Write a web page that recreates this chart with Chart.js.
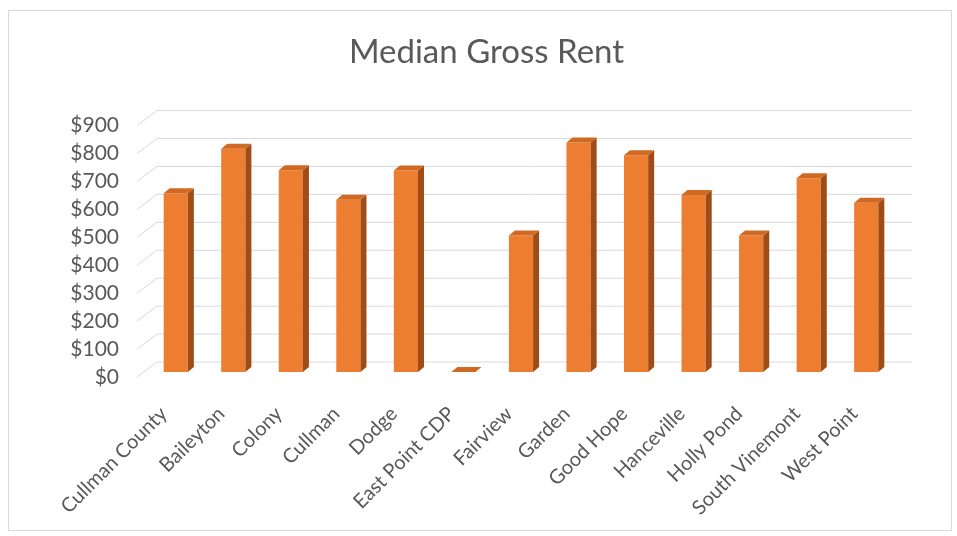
<!DOCTYPE html>
<html>
<head>
<meta charset="utf-8">
<title>Median Gross Rent</title>
<script src="https://cdn.jsdelivr.net/npm/chart.js@4.4.1/dist/chart.umd.min.js"></script>
<style>
  html, body { margin: 0; padding: 0; background: #fff; }
  #wrap { position: relative; width: 957px; height: 536px; }
</style>
</head>
<body>
<div id="wrap"><canvas id="rentChart" width="957" height="536"></canvas></div>
<script>
const places = ['Cullman County', 'Baileyton', 'Colony', 'Cullman', 'Dodge', 'East Point CDP',
  'Fairview', 'Garden', 'Good Hope', 'Hanceville', 'Holly Pond', 'South Vinemont', 'West Point'];
const medianRent = [640, 799, 722, 617, 721, 0, 489, 822, 776, 634, 489, 694, 606];
const rentTicks = [0, 100, 200, 300, 400, 500, 600, 700, 800, 900];

const orange = '#ed7d31';
const orangeSide = '#9f4c17';
const orangeTop = '#d06a22';
const gridColor = '#d9d9d9';
const textColor = '#595959';

// depth of the floor / back wall, and of each bar
const wall = { dx: 20, front: 5, back: -10 };
const barDepth = { dx: 6, dy: -5 };

// outer frame
const framePlugin = {
  id: 'frame',
  beforeDraw(chart) {
    const c = chart.ctx;
    c.save();
    c.fillStyle = '#fff';
    c.fillRect(0, 0, chart.width, chart.height);
    c.strokeStyle = '#d9d9d9';
    c.lineWidth = 1;
    c.strokeRect(8.5, 10.5, 943, 520);
    c.restore();
  }
};

// back wall grid lines with the slanted floor edge at the left
const wallGridPlugin = {
  id: 'wallGrid',
  beforeDatasetsDraw(chart) {
    const c = chart.ctx;
    const y = chart.scales.y;
    const left = chart.chartArea.left - 8;
    const right = 912;
    c.save();
    c.strokeStyle = gridColor;
    c.lineWidth = 1;
    rentTicks.forEach(v => {
      const py = y.getPixelForValue(v);
      c.beginPath();
      c.moveTo(left - 2, py + wall.front);
      c.lineTo(left + wall.dx - 2, py + wall.back);
      c.lineTo(right, py + wall.back);
      c.stroke();
    });
    c.restore();
  }
};

// side and top faces for each bar
const barFacesPlugin = {
  id: 'barFaces',
  afterDatasetsDraw(chart) {
    const c = chart.ctx;
    const meta = chart.getDatasetMeta(0);
    c.save();
    meta.data.forEach(bar => {
      const p = bar.getProps(['x', 'y', 'base', 'width'], true);
      const l = p.x - p.width / 2;
      const r = p.x + p.width / 2;
      c.fillStyle = orangeSide;
      c.beginPath();
      c.moveTo(r, p.y);
      c.lineTo(r + barDepth.dx, p.y + barDepth.dy);
      c.lineTo(r + barDepth.dx, p.base + barDepth.dy);
      c.lineTo(r, p.base);
      c.closePath();
      c.fill();
      c.fillStyle = orangeTop;
      c.beginPath();
      c.moveTo(l, p.y);
      c.lineTo(l + barDepth.dx, p.y + barDepth.dy);
      c.lineTo(r + barDepth.dx, p.y + barDepth.dy);
      c.lineTo(r, p.y);
      c.closePath();
      c.fill();
    });
    c.restore();
  }
};

new Chart(document.getElementById('rentChart'), {
  type: 'bar',
  data: {
    labels: places,
    datasets: [{
      label: 'Median Gross Rent',
      data: medianRent,
      backgroundColor: orange,
      borderWidth: 0,
      categoryPercentage: 1,
      barPercentage: 0.42
    }]
  },
  options: {
    responsive: false,
    animation: false,
    layout: { padding: { left: 16, right: 0, top: 0, bottom: 0 } },
    plugins: {
      legend: { display: false },
      tooltip: { enabled: false },
      title: {
        display: true,
        text: 'Median Gross Rent',
        color: textColor,
        font: { family: 'Lato', size: 33, weight: 'normal' },
        padding: { top: 33, bottom: 48 }
      }
    },
    scales: {
      x: {
        grid: { display: false },
        border: { display: false },
        ticks: {
          color: textColor,
          font: { family: 'Lato', size: 20 },
          minRotation: 45,
          maxRotation: 45,
          autoSkip: false,
          padding: 22,
          labelOffset: -12
        },
        afterFit(scale) { scale.height = 164; }
      },
      y: {
        min: 0,
        max: 900,
        grid: { display: false },
        border: { display: false },
        ticks: {
          stepSize: 100,
          autoSkip: false,
          color: textColor,
          font: { family: 'Lato', size: 21 },
          padding: 20,
          labelOffset: 5,
          callback: v => '$' + v
        },
        afterFit(scale) { scale.width = 131; }
      },
      // empty strip on the right that keeps the plot clear of the frame
      yRight: {
        position: 'right',
        grid: { display: false },
        border: { display: false },
        ticks: { display: false },
        afterFit(scale) { scale.width = 62; }
      }
    }
  },
  plugins: [framePlugin, wallGridPlugin, barFacesPlugin]
});
</script>
</body>
</html>
